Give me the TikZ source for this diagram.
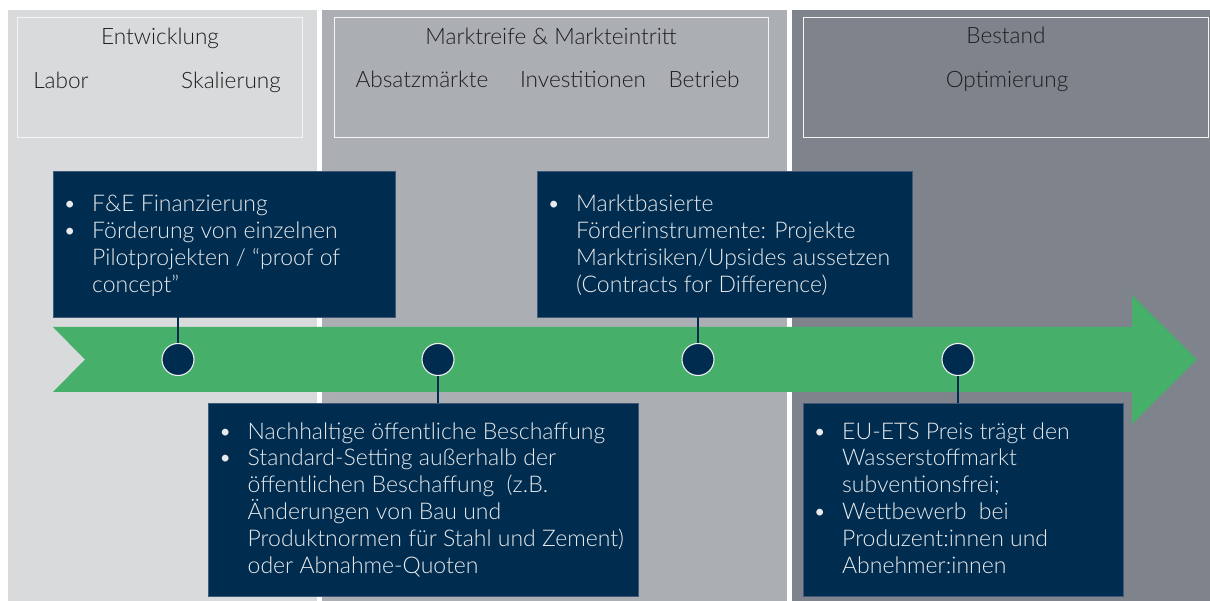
\documentclass[tikz,border=0pt]{standalone}
\usepackage{fontspec}
\IfFontExistsTF{Lato Light}{\setmainfont{Lato Light}}{\setmainfont{Lato}}
\definecolor{pA}{HTML}{D9DADC}
\definecolor{pB}{HTML}{ABAEB2}
\definecolor{pC}{HTML}{7E838C}
\definecolor{navy}{HTML}{002C4F}
\definecolor{navyedge}{HTML}{3E5A78}
\definecolor{arrowgreen}{HTML}{46B06A}
\definecolor{lighttext}{HTML}{E8EAEC}
\definecolor{darktext}{HTML}{1E1E1E}
\newcommand{\bul}{\makebox[29pt][l]{\textbullet}}
\newcommand{\ind}{\hspace*{29pt}}
\tikzset{
  hdrbox/.style={draw=white!92!gray, line width=0.9pt},
  hdrtext/.style={text=darktext, font=\fontsize{22.6}{26}\selectfont, inner sep=0pt},
  navybox/.style={fill=navy, draw=navyedge, line width=0.7pt, inner sep=0pt},
  bodytext/.style={text=lighttext, font=\fontsize{23}{26.8}\selectfont, align=left, inner sep=0pt, anchor=base west},
  dot/.style={circle, fill=navy, draw=white!88!gray, line width=1.1pt, minimum size=32pt, inner sep=0pt},
  conn/.style={draw=navy, line width=2.6pt}
}
\begin{document}
\begin{tikzpicture}[x=1pt,y=-1pt]
\useasboundingbox (0,0) rectangle (1210,601);
\fill[white] (0,0) rectangle (1210,601);
% phase panels
\fill[pA] (8,10) rectangle (317,601);
\fill[pB] (322,10) rectangle (787,601);
\fill[pC] (792,10) rectangle (1210,601);
% header boxes
\draw[hdrbox] (17,17) rectangle (302,137);
\draw[hdrbox] (334,17) rectangle (768,137);
\draw[hdrbox] (803,17) rectangle (1208,137);
% header texts
\node[hdrtext, anchor=base] (h1) at (160,45) {Entwicklung};
\node[hdrtext, anchor=base] (h1a) at (61,89) {Labor};
\node[hdrtext, anchor=base] (h1b) at (231,89) {Skalierung};
\node[hdrtext, anchor=base] (h2) at (551,45) {Marktreife \& Markteintritt};
\node[hdrtext, anchor=base] (h2a) at (422,88) {Absatzmärkte};
\node[hdrtext, anchor=base] (h2b) at (583,88) {Investitionen};
\node[hdrtext, anchor=base] (h2c) at (704,88) {Betrieb};
\node[hdrtext, anchor=base] (h3) at (1006,44) {Bestand};
\node[hdrtext, anchor=base] (h3a) at (1007,88) {Optimierung};
% timeline arrow
\fill[arrowgreen] (53,327) -- (1132,327) -- (1132,295) -- (1197,359.5) -- (1132,424) -- (1132,392) -- (53,392) -- (85,359.5) -- cycle;
% boxes
\node[navybox, minimum width=342pt, minimum height=146pt] (bA) at (224,244) {};
\node[navybox, minimum width=375pt, minimum height=146pt] (bB) at (724.5,244) {};
\node[navybox, minimum width=430pt, minimum height=193pt] (bC) at (423,499.5) {};
\node[navybox, minimum width=320pt, minimum height=193pt] (bD) at (963,499.5) {};
% circles
\node[dot] (c1) at (178,359.5) {};
\node[dot] (c2) at (438,359.5) {};
\node[dot] (c3) at (698,359.5) {};
\node[dot] (c4) at (958,359.5) {};
% connectors
\draw[conn] (c1) -- (c1 |- bA.south);
\draw[conn] (c2) -- (c2 |- bC.north);
\draw[conn] (c3) -- (c3 |- bB.south);
\draw[conn] (c4) -- (c4 |- bD.north);
% box texts (anchor = baseline of the last line)
\node[bodytext] (tA) at (63,292.4) {\bul F\&E Finanzierung\\\bul Förderung von einzelnen\\\ind Pilotprojekten / “proof of\\\ind concept”};
\node[bodytext] (tB) at (547,292.4) {\bul Marktbasierte\\\ind Förderinstrumente: Projekte\\\ind Marktrisiken/Upsides aussetzen\\\ind (Contracts for Difference)};
\node[bodytext] (tC) at (218.5,573) {\bul Nachhaltige öffentliche Beschaffung\\\bul Standard-Setting außerhalb der\\\ind öffentlichen Beschaffung\ \ (z.B.\\\ind Änderungen von Bau und\\\ind Produktnormen für Stahl und Zement)\\\ind oder Abnahme-Quoten};
\node[bodytext] (tD) at (813,573) {\bul EU-ETS Preis trägt den\\\ind Wasserstoffmarkt\\\ind subventionsfrei;\\\bul Wettbewerb\ \ bei\\\ind Produzent:innen und\\\ind Abnehmer:innen};
\end{tikzpicture}
\end{document}
